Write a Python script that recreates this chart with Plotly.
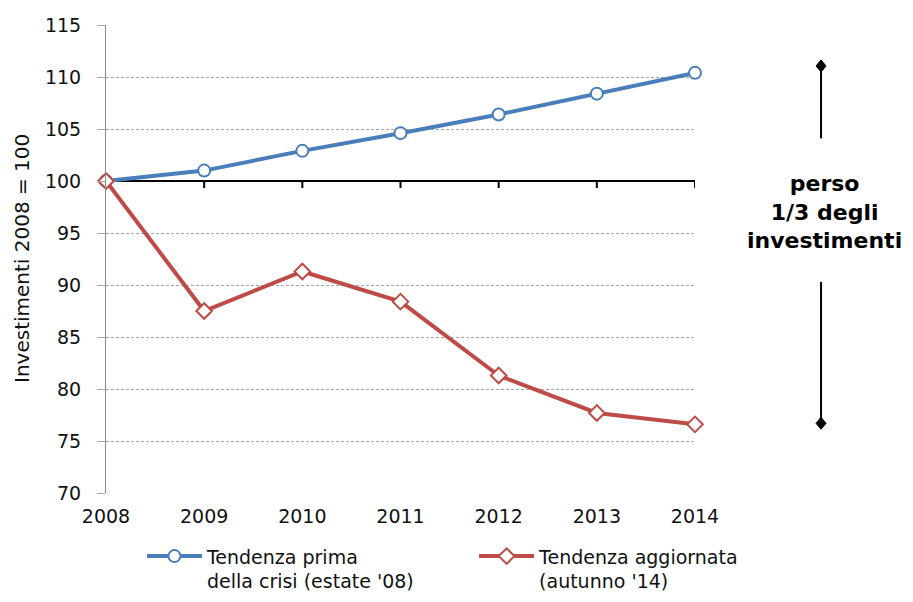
import plotly.graph_objects as go

years = [2008, 2009, 2010, 2011, 2012, 2013, 2014]
pre_crisis = [100.0, 101.0, 102.9, 104.6, 106.4, 108.4, 110.4]
updated = [100.0, 87.5, 91.3, 88.4, 81.3, 77.7, 76.6]
name_pre = "Tendenza prima<br>della crisi (estate '08)"
name_upd = "Tendenza aggiornata<br>(autunno '14)"
y_ticks = [70, 75, 80, 85, 90, 95, 100, 105, 110, 115]
y_title = "Investimenti 2008 = 100"
note_text = "perso<br>1/3 degli<br>investimenti"

BLUE = "#4A7EBB"
RED = "#BE4B48"
FONT = "DejaVu Sans"

fig = go.Figure()
fig.add_trace(go.Scatter(
    x=years, y=pre_crisis, name=name_pre, mode="lines+markers",
    line=dict(color=BLUE, width=4),
    marker=dict(symbol="circle", size=12, color="white", line=dict(color=BLUE, width=2)),
    cliponaxis=False, legend="legend",
))
fig.add_trace(go.Scatter(
    x=years, y=updated, name=name_upd, mode="lines+markers",
    line=dict(color=RED, width=4),
    marker=dict(symbol="diamond", size=12, color="white", line=dict(color=RED, width=2)),
    cliponaxis=False, legend="legend2",
))

shapes = []
# horizontal baseline axis at 100
shapes.append(dict(type="line", xref="x", yref="y", x0=years[0], x1=years[-1], y0=100, y1=100,
                   line=dict(color="black", width=2), layer="between"))
for yr in years:
    shapes.append(dict(type="line", xref="x", yref="y", x0=yr, x1=yr,
                       ysizemode="pixel", yanchor=100, y0=0, y1=-7,
                       line=dict(color="black", width=2), layer="between"))

# right annotation lines and diamonds
ax_x = 1.214
top_v, top_end = 111.06, 104.1
bot_start, bot_v = 90.3, 76.7
shapes.append(dict(type="line", xref="paper", yref="y", x0=ax_x, x1=ax_x, y0=top_v, y1=top_end,
                   line=dict(color="black", width=2)))
shapes.append(dict(type="line", xref="paper", yref="y", x0=ax_x, x1=ax_x, y0=bot_start, y1=bot_v,
                   line=dict(color="black", width=2)))
for v in (top_v, bot_v):
    shapes.append(dict(type="path", xref="paper", yref="y",
                       xsizemode="pixel", ysizemode="pixel", xanchor=ax_x, yanchor=v,
                       path="M 0,6 L 5,0 L 0,-6 L -5,0 Z",
                       fillcolor="black", line=dict(color="black", width=1)))

legend_common = dict(orientation="v", xref="container", yref="container",
                     xanchor="left", y=0.109, yanchor="top",
                     font=dict(size=19, family=FONT), itemwidth=55, valign="top",
                     bgcolor="rgba(0,0,0,0)")

fig.update_layout(
    width=905, height=594,
    margin=dict(l=98, r=218, t=17, b=109, autoexpand=False),
    paper_bgcolor="white", plot_bgcolor="white",
    font=dict(family=FONT, size=19, color="#111111"),
    shapes=shapes,
    showlegend=True,
    legend=dict(legend_common, x=0.148),
    legend2=dict(legend_common, x=0.515),
    annotations=[
        dict(text=note_text, xref="paper", yref="y", x=ax_x + 0.006, y=97.0,
             xanchor="center", yanchor="middle",
             showarrow=False, align="center",
             font=dict(family=FONT, size=22, color="black", weight="bold")),
        dict(text=y_title, xref="paper", yref="paper", x=0, y=0.5, xshift=-84,
             xanchor="center", yanchor="middle", textangle=-90, showarrow=False,
             font=dict(family=FONT, size=20, color="#111111")),
    ],
)
fig.update_xaxes(
    range=[years[0], years[-1]], tickvals=years, ticktext=[str(y) for y in years],
    showgrid=False, zeroline=False, showline=False, ticks="",
    ticklabelstandoff=10, tickfont=dict(size=19),
)
fig.update_yaxes(
    range=[70, 115], tickvals=y_ticks, showgrid=True, gridcolor="#A6A6A6",
    griddash="3px,2px", gridwidth=1, zeroline=False,
    showline=True, linecolor="#8C8C8C", linewidth=1,
    ticks="outside", ticklen=8, tickcolor="#A6A6A6", ticklabelstandoff=12,
    tickfont=dict(size=19),
)

fig.write_html("out.html")
